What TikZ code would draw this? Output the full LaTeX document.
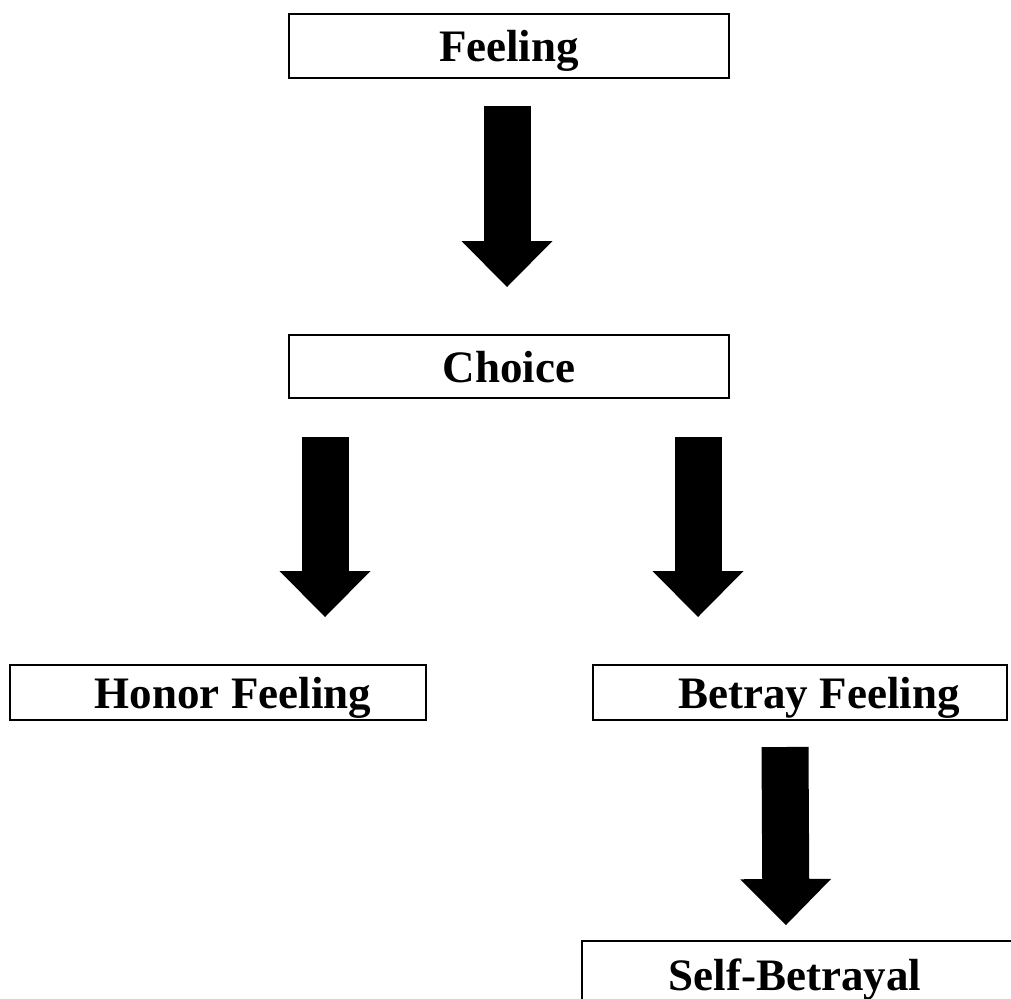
\documentclass[tikz,border=0pt]{standalone}
\usepackage{fontspec}
\setmainfont{Liberation Serif}
\usetikzlibrary{arrows.meta,calc}
\begin{document}
\begin{tikzpicture}[x=1pt,y=-1pt,
  box/.style={draw=black,line width=2pt,inner sep=0pt,font=\fontsize{45}{54}\selectfont\bfseries,text height=31pt,text depth=0pt},
  fatarrow/.style={line width=47pt,-{Triangle[width=91pt,length=46pt,line width=0pt]}}]
\useasboundingbox (0,0) rectangle (1011,998);
\node[box,minimum width=440pt,minimum height=64pt] (feel) at (509,46) {Feeling};
\node[box,minimum width=440pt,minimum height=63pt] (choice) at (509,366.5) {Choice};
\node[box,minimum width=416pt,minimum height=55pt] (honor) at (218,692.5) {\hspace*{30pt}Honor Feeling};
\node[box,minimum width=414pt,minimum height=55pt] (betray) at (800,692.5) {\hspace*{38pt}Betray Feeling};
\begin{scope}
\clip (0,0) rectangle (1011,998);
\node[box,minimum width=440pt,minimum height=68pt] (self) at (802,975) {\hspace*{-14pt}Self-Betrayal};
\end{scope}
\coordinate (a1s) at ($(feel.south)+(-2,27)$);
\coordinate (a1e) at ($(choice.north)+(-2,-47)$);
\coordinate (a2s) at ($(choice.south)+(-184,38)$);
\coordinate (a2e) at ($(honor.north)+(107,-47)$);
\coordinate (a3s) at ($(choice.south)+(189,38)$);
\coordinate (a3e) at ($(betray.north)+(-102,-47)$);
\coordinate (a4s) at ($(betray.south)+(-15,26)$);
\coordinate (a4e) at ($(self.north)+(-16,-15)$);
\draw[fatarrow] (a1s) -- (a1e);
\draw[fatarrow] (a2s) -- (a2e);
\draw[fatarrow] (a3s) -- (a3e);
\draw[fatarrow] (a4s) -- (a4e);
\end{tikzpicture}
\end{document}
